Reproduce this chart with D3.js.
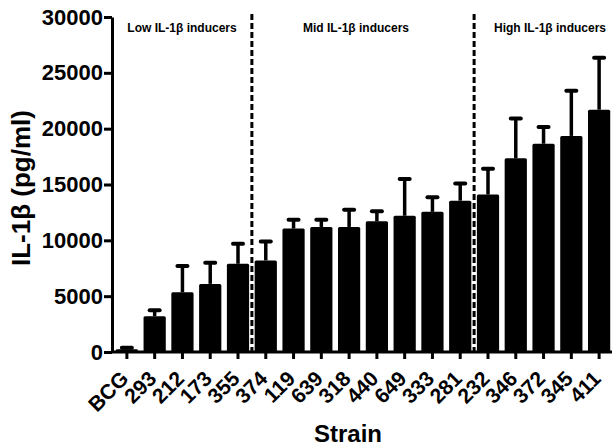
<!DOCTYPE html>
<html>
<head>
<meta charset="utf-8">
<script src="https://cdn.jsdelivr.net/npm/d3@7"></script>
<style>
  body { margin: 0; background: #fff; }
  text { font-family: "Liberation Sans", Arial, sans-serif; font-weight: bold; fill: #000; }
</style>
</head>
<body>
<div id="chart"></div>
<script>
const strains = ["BCG", "293", "212", "173", "355", "374", "119", "639", "318", "440", "649", "333", "281", "232", "346", "372", "345", "411"];
const means = [250, 3200, 5350, 6100, 7900, 8200, 11050, 11200, 11200, 11700, 12200, 12550, 13550, 14100, 17350, 18650, 19350, 21700];
const errors = [120, 550, 2350, 1900, 1800, 1700, 800, 650, 1550, 900, 3300, 1300, 1550, 2300, 3550, 1500, 4050, 4650];
const yTicks = [0, 5000, 10000, 15000, 20000, 25000, 30000];
const groupLabels = ["Low IL-1\u03b2 inducers", "Mid IL-1\u03b2 inducers", "High IL-1\u03b2 inducers"];
// last strain of each group (dashed divider after it)
const groupEnds = ["355", "281"];

const width = 612;
const height = 447;
const margin = { top: 17, right: 0, bottom: 95, left: 112 };

const svg = d3
  .select("#chart")
  .append("svg")
  .attr("width", width)
  .attr("height", height);

const xScale = d3
  .scaleBand()
  .domain(strains)
  .range([margin.left + 1, width + 1])
  .paddingInner(0.2)
  .paddingOuter(0.1);

const yScale = d3
  .scaleLinear()
  .domain([0, 30000])
  .range([height - margin.bottom, margin.top]);

const y0 = yScale(0);

// bars
svg
  .selectAll(".bar")
  .data(strains)
  .enter()
  .append("rect")
  .attr("class", "bar")
  .attr("x", (d) => xScale(d))
  .attr("y", (d, i) => yScale(means[i]))
  .attr("width", xScale.bandwidth())
  .attr("height", (d, i) => y0 - yScale(means[i]))
  .attr("rx", 1.5)
  .attr("fill", "#000");

// error bars (upper only)
const errG = svg
  .selectAll(".err")
  .data(strains)
  .enter()
  .append("g")
  .attr("class", "err");

errG
  .append("line")
  .attr("x1", (d) => xScale(d) + xScale.bandwidth() / 2)
  .attr("x2", (d) => xScale(d) + xScale.bandwidth() / 2)
  .attr("y1", (d, i) => yScale(means[i]))
  .attr("y2", (d, i) => yScale(means[i] + errors[i]))
  .attr("stroke", "#000")
  .attr("stroke-width", 3.5);

errG
  .append("line")
  .attr("x1", (d) => xScale(d) + xScale.bandwidth() / 2 - 5)
  .attr("x2", (d) => xScale(d) + xScale.bandwidth() / 2 + 5)
  .attr("y1", (d, i) => yScale(means[i] + errors[i]))
  .attr("y2", (d, i) => yScale(means[i] + errors[i]))
  .attr("stroke", "#000")
  .attr("stroke-width", 4)
  .attr("stroke-linecap", "round");

// dashed group dividers
const step = xScale.step();
groupEnds.forEach((s) => {
  const xd = xScale(s) + xScale.bandwidth() + (step - xScale.bandwidth()) / 2;
  svg
    .append("line")
    .attr("x1", xd)
    .attr("x2", xd)
    .attr("y1", 14)
    .attr("y2", y0)
    .attr("stroke", "#000")
    .attr("stroke-width", 3)
    .attr("stroke-dasharray", "6,3");
});

// group labels
const groupX = [182, 356, 550];
groupLabels.forEach((t, i) => {
  svg
    .append("text")
    .attr("x", groupX[i])
    .attr("y", 32)
    .attr("text-anchor", "middle")
    .style("font-size", "12px")
    .text(t);
});

// axes
const xAxis = svg
  .append("g")
  .attr("transform", `translate(0,${y0})`)
  .call(d3.axisBottom(xScale).tickSize(7).tickSizeOuter(0));

xAxis.select(".domain").attr("stroke-width", 3).attr("d", `M${margin.left},0H${width}`);
xAxis.selectAll(".tick line").attr("stroke-width", 3);
xAxis
  .selectAll("text")
  .attr("x", 3)
  .attr("y", 28)
  .attr("dy", 0)
  .attr("transform", "rotate(-45,3,28)")
  .style("text-anchor", "end")
  .style("font-size", "21px")
  .style("font-family", '"Liberation Sans", Arial, sans-serif');

const yAxis = svg
  .append("g")
  .attr("transform", `translate(${margin.left},0)`)
  .call(
    d3
      .axisLeft(yScale)
      .tickValues(yTicks)
      .tickFormat(d3.format("d"))
      .tickSize(8)
      .tickPadding(1)
      .tickSizeOuter(0)
  );

yAxis.select(".domain").attr("stroke-width", 3);
yAxis.selectAll(".tick line").attr("stroke-width", 3);
yAxis
  .selectAll("text")
  .style("font-size", "22px")
  .style("font-family", '"Liberation Sans", Arial, sans-serif');

// axis titles
svg
  .append("text")
  .attr("transform", "translate(30,188) rotate(-90)")
  .attr("text-anchor", "middle")
  .style("font-size", "26px")
  .text("IL-1\u03b2 (pg/ml)");

svg
  .append("text")
  .attr("x", 348)
  .attr("y", 442)
  .attr("text-anchor", "middle")
  .style("font-size", "24px")
  .text("Strain");
</script>
</body>
</html>
